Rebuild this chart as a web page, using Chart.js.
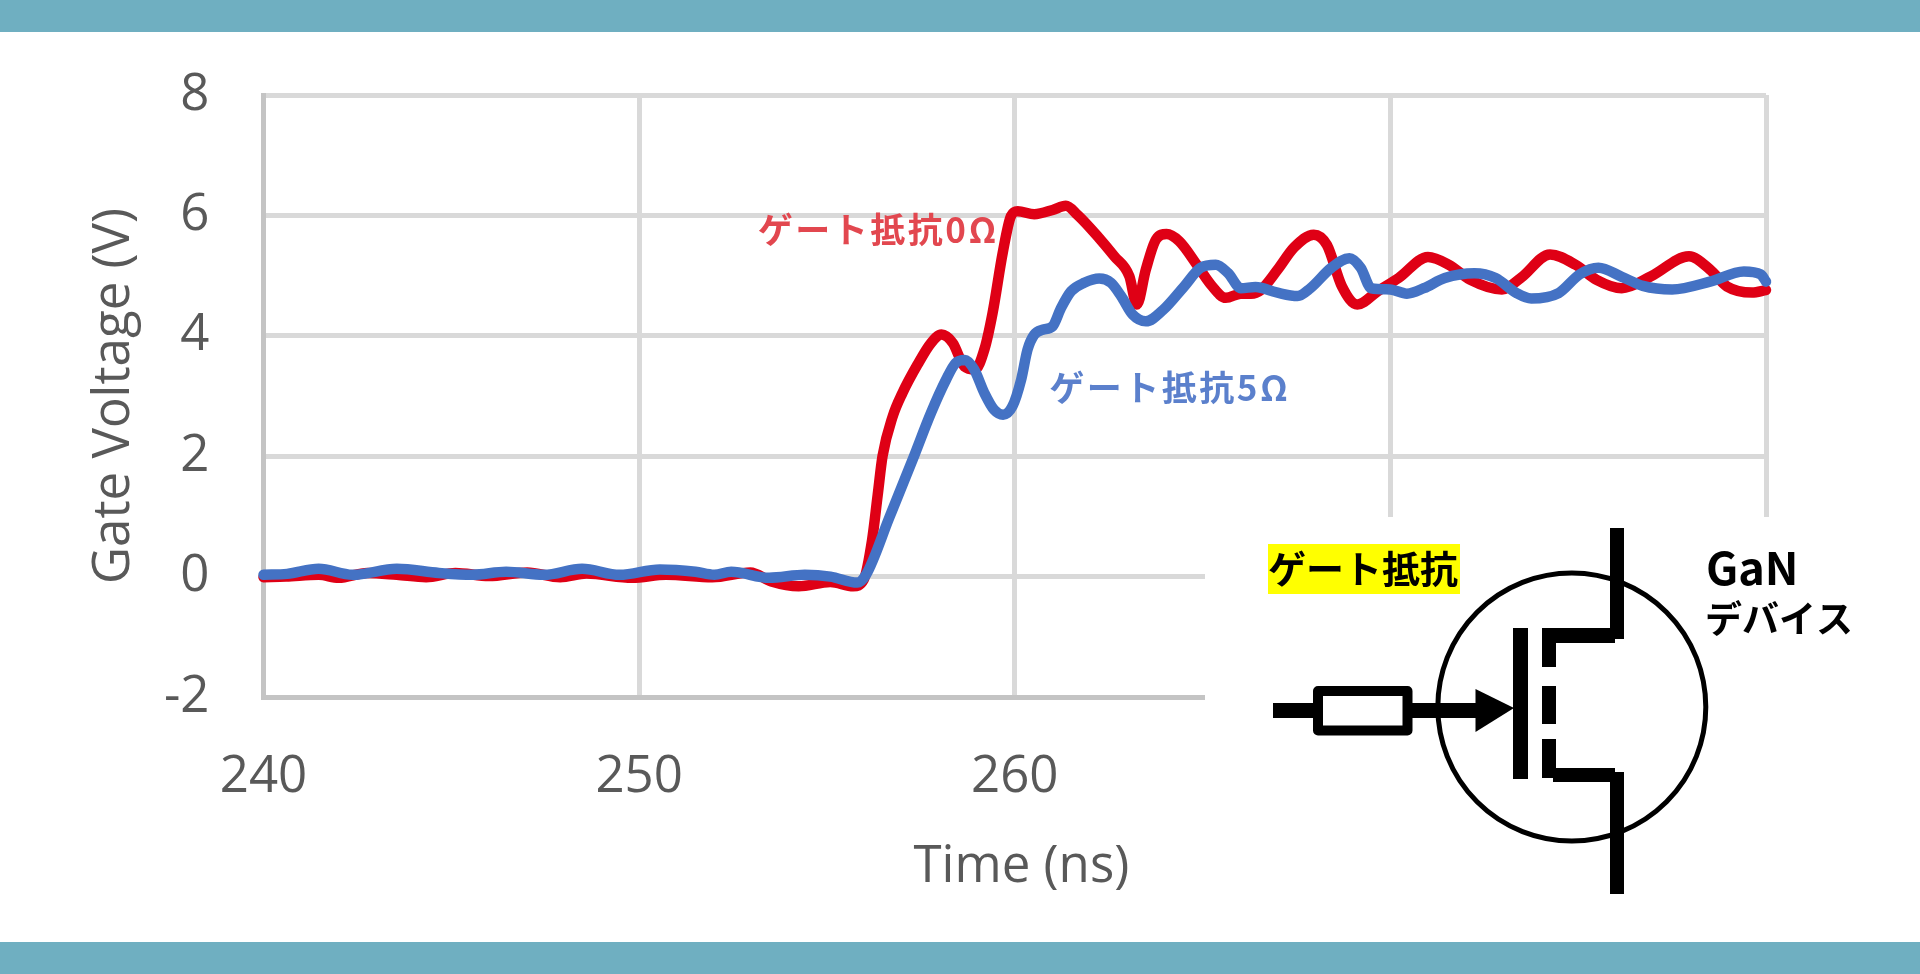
<!DOCTYPE html>
<html>
<head>
<meta charset="utf-8">
<style>
  html, body { margin: 0; padding: 0; background: #fff; overflow: hidden; }
  canvas { display: block; }
</style>
<script src="https://cdn.jsdelivr.net/npm/chart.js@4/dist/chart.umd.min.js"></script>
</head>
<body>
<canvas id="chart-gate" width="1920" height="974"></canvas>
<script>
/* ===== data ===== */
const timeRed = [240, 240.6, 241.47, 242, 242.76, 243.55, 244.33, 245.11, 246, 247.02, 247.9, 248.6, 249.82, 250.72, 251.95, 252.96, 253.52, 254.25, 255.09, 255.7, 255.98,
  256.2, 256.35, 256.48, 256.75, 257.01, 257.41, 257.77, 258.05, 258.35, 258.66, 258.94, 259.19, 259.41, 259.68, 259.9, 260.08, 260.52, 261.01, 261.36, 261.67, 262.21, 262.65, 263.05, 263.25, 263.49, 263.76,
  264.04, 264.38, 264.87, 265.22, 265.62, 266.02, 266.29, 266.55, 267, 267.44, 267.96, 268.31, 268.71, 269.12, 269.66, 270.22, 271, 271.56, 272.13, 272.97, 273.47, 274.25, 274.93, 275.49, 276.16, 276.94, 277.95, 278.51, 278.96, 279.63, 280];
const voltRed = [-0.01, 0, 0.03, -0.02, 0.06, 0.03, -0.01, 0.06, 0.01, 0.07, -0.01, 0.05, -0.02, 0.03, -0.01, 0.07, -0.08, -0.16, -0.09, -0.16, -0.05,
  0.6, 1.35, 2, 2.66, 3.05, 3.52, 3.88, 4.02, 3.88, 3.49, 3.44, 3.77, 4.38, 5.38, 5.99, 6.07, 6.02, 6.09, 6.16, 6.01, 5.65, 5.32, 4.99, 4.52, 5.1, 5.6,
  5.69, 5.57, 5.16, 4.85, 4.63, 4.7, 4.7, 4.76, 5.1, 5.47, 5.68, 5.51, 4.82, 4.52, 4.74, 4.96, 5.31, 5.18, 4.93, 4.77, 4.96, 5.35, 5.18, 4.93, 4.79, 4.99, 5.32, 5.1, 4.82, 4.72, 4.76];

const timeBlue = [240, 240.63, 241.47, 242.37, 243.55, 244.67, 245.56, 246.46, 247.47, 248.48, 249.48, 250.55, 251.5, 252, 252.45, 253.46, 254.41, 255.09, 255.81, 256.04,
  256.66, 257.28, 257.77, 258.17, 258.43, 258.67, 258.92, 259.19, 259.45, 259.69, 259.94, 260.17, 260.34, 260.52, 260.74, 261.01, 261.23, 261.5, 261.85, 262.25, 262.56, 262.83, 263.14, 263.49,
  263.95, 264.51, 264.95, 265.35, 265.68, 266.02, 266.41, 266.97, 267.53, 267.87, 268.43, 268.91, 269.21, 269.49, 269.99, 270.44, 270.89, 271.45, 272.24, 272.8, 273.36, 273.75, 274.48, 275.04, 275.54, 276.16, 276.72, 277.5, 278.51, 279.41, 279.86, 280];
const voltBlue = [0.03, 0.045, 0.13, 0.03, 0.13, 0.06, 0.03, 0.08, 0.03, 0.13, 0.03, 0.12, 0.08, 0.03, 0.08, -0.02, 0.03, 0, -0.1, 0.03,
  0.98, 1.94, 2.72, 3.27, 3.55, 3.6, 3.44, 3.05, 2.77, 2.69, 2.83, 3.27, 3.77, 4.02, 4.1, 4.16, 4.46, 4.74, 4.88, 4.95, 4.88, 4.66, 4.35, 4.24,
  4.43, 4.82, 5.13, 5.18, 5.04, 4.79, 4.81, 4.72, 4.66, 4.79, 5.13, 5.29, 5.13, 4.79, 4.77, 4.7, 4.79, 4.96, 5.04, 4.96, 4.71, 4.62, 4.71, 5.02, 5.13, 4.98, 4.83, 4.77, 4.9, 5.07, 5.02, 4.9];

const seriesNames = ["ゲート抵抗0Ω", "ゲート抵抗5Ω"];
const labelTimes = [253.16, 260.92];
const labelVolts = [5.77, 3.14];

const xTicks = [240, 250, 260, 270, 280];
const yTicks = [-2, 0, 2, 4, 6, 8];

const toPoints = (xs, ys) => xs.map((x, i) => ({ x, y: ys[i] }));

/* ===== bands, series labels, gate circuit ===== */
const FONT = '"Noto Sans CJK JP", "Open Sans", sans-serif';

const rect = (ctx, x0, y0, x1, y1) => ctx.fillRect(x0, y0, x1 - x0, y1 - y0);

const decor = {
  id: "decor",
  beforeDraw(chart) {
    const ctx = chart.ctx;
    ctx.save();
    ctx.fillStyle = "#fff";
    ctx.fillRect(0, 0, 1920, 974);
    ctx.restore();
  },
  afterDraw(chart) {
    const ctx = chart.ctx;
    const xs = chart.scales.x, ys = chart.scales.y;
    ctx.save();

    // white box of the circuit sits over the grid
    ctx.fillStyle = "#fff";
    rect(ctx, 1205, 517, 1920, 942);

    // top and bottom bands
    ctx.fillStyle = "#6FAFC1";
    rect(ctx, 0, 0, 1920, 32);
    rect(ctx, 0, 942, 1920, 974);

    // series labels
    ctx.textBaseline = "middle";
    ctx.textAlign = "left";
    ctx.font = "bold 35px " + FONT;
    ctx.letterSpacing = "2.5px";
    ctx.fillStyle = "#E2474F";
    ctx.fillText(seriesNames[0], xs.getPixelForValue(labelTimes[0]), ys.getPixelForValue(labelVolts[0]));
    ctx.fillStyle = "#5B80CC";
    ctx.fillText(seriesNames[1], xs.getPixelForValue(labelTimes[1]), ys.getPixelForValue(labelVolts[1]));
    ctx.letterSpacing = "0px";

    // circuit text
    ctx.fillStyle = "#FFFF00";
    rect(ctx, 1268, 544, 1460, 594);
    ctx.fillStyle = "#000";
    ctx.font = "bold 38px " + FONT;
    ctx.fillText("ゲート抵抗", 1268, 569);
    ctx.font = "bold 45px " + FONT;
    ctx.fillText("GaN", 1706, 568);
    ctx.font = "bold 37px " + FONT;
    ctx.fillText("デバイス", 1705, 619);

    // circuit symbol
    ctx.strokeStyle = "#000";
    ctx.lineWidth = 5;
    ctx.beginPath();
    ctx.arc(1571.8, 707, 134, 0, Math.PI * 2);
    ctx.stroke();

    ctx.fillStyle = "#000";
    rect(ctx, 1610, 528, 1624, 639);      // drain
    rect(ctx, 1542, 628, 1615, 643);
    rect(ctx, 1542, 628, 1556, 667);
    rect(ctx, 1542, 686, 1556, 724);      // channel
    rect(ctx, 1542, 739, 1556, 778);
    rect(ctx, 1553, 768, 1615, 782);      // source
    rect(ctx, 1610, 772, 1624, 894);
    rect(ctx, 1513, 628, 1528, 779);      // gate
    rect(ctx, 1273, 703, 1314, 718);
    rect(ctx, 1411, 703, 1477, 718);

    ctx.beginPath();
    ctx.moveTo(1475.5, 689);
    ctx.lineTo(1514, 708);
    ctx.lineTo(1475.5, 732);
    ctx.closePath();
    ctx.fill();

    ctx.lineWidth = 10;
    ctx.lineJoin = "round";
    ctx.strokeRect(1318, 691, 89.5, 39.5); // resistor

    ctx.restore();
  }
};

/* ===== chart ===== */
const gctx = document.getElementById("chart-gate").getContext("2d");

const lineStyle = {
  borderWidth: 10.5,
  pointRadius: 0,
  cubicInterpolationMode: "monotone",
  borderJoinStyle: "round",
  borderCapStyle: "round",
  clip: false
};

const tickFont = { family: "Open Sans", size: 51 };

new Chart(gctx, {
  type: "line",
  data: {
    datasets: [
      { label: seriesNames[1], data: toPoints(timeBlue, voltBlue), borderColor: "#4472C4", ...lineStyle },
      { label: seriesNames[0], data: toPoints(timeRed, voltRed), borderColor: "#DF0015", ...lineStyle }
    ]
  },
  options: {
    responsive: false,
    animation: false,
    layout: { padding: { top: 95, right: 154 } },
    plugins: { legend: { display: false }, tooltip: { enabled: false } },
    scales: {
      x: {
        type: "linear",
        min: 240,
        max: 280,
        afterFit: s => { s.height = 277; },
        afterBuildTicks: s => { s.ticks = xTicks.map(value => ({ value })); },
        grid: { color: "#D9D9D9", lineWidth: 5, drawTicks: false },
        border: { color: "#C4C4C4", width: 5 },
        ticks: { color: "#595959", font: tickFont, padding: 50, maxRotation: 0 },
        title: { display: true, text: " Time (ns)", color: "#595959", font: tickFont, padding: { bottom: 76 } }
      },
      y: {
        min: -2,
        max: 8,
        afterFit: s => { s.width = 263.5; },
        afterBuildTicks: s => { s.ticks = yTicks.map(value => ({ value })); },
        grid: { color: "#D9D9D9", lineWidth: 5, drawTicks: false },
        border: { color: "#C4C4C4", width: 5 },
        ticks: { color: "#595959", font: tickFont, padding: 54 },
        title: { display: true, text: "Gate Voltage (V)", color: "#595959", font: tickFont, padding: { top: 84 } }
      }
    }
  },
  plugins: [decor]
});
</script>
</body>
</html>
